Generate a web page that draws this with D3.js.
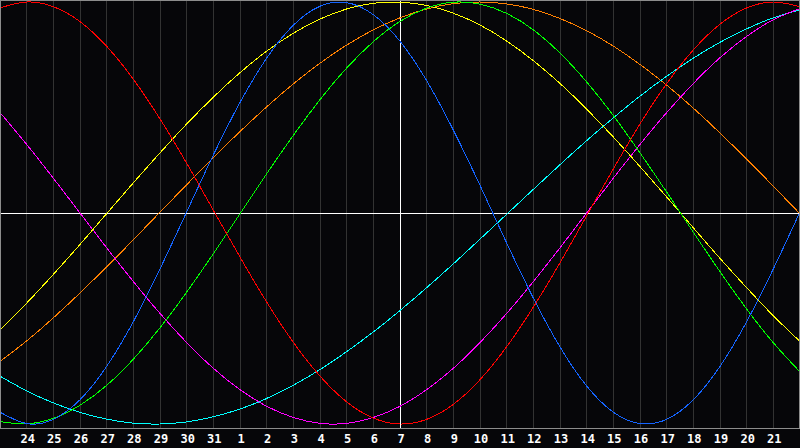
<!DOCTYPE html>
<html>
<head>
<meta charset="utf-8">
<script src="https://cdn.jsdelivr.net/npm/d3@7"></script>
<style>
  html, body { margin: 0; padding: 0; background: #060609; }
  svg { display: block; }
</style>
</head>
<body>
<div id="chart"></div>
<script>
// day labels under the grid lines (index 1..29)
const dayLabels = [24, 25, 26, 27, 28, 29, 30, 31, 1, 2, 3, 4, 5, 6, 7, 8, 9, 10, 11, 12, 13, 14, 15, 16, 17, 18, 19, 20, 21];

// cycle values, one per day (index 0..30)
const physical = [-0.944, -0.998, -0.978, -0.885, -0.727, -0.515, -0.265, 0.005, 0.275, 0.524, 0.734, 0.890, 0.980, 0.997, 0.940, 0.814,
    0.627, 0.393, 0.131, -0.142, -0.403, -0.635, -0.820, -0.944, -0.998, -0.978, -0.885, -0.727, -0.515, -0.265, 0.005];
const emotional = [0.972, 1.000, 0.978, 0.907, 0.790, 0.634, 0.446, 0.236, 0.013, -0.209, -0.422, -0.613, -0.773, -0.895, -0.972, -1.000,
    -0.978, -0.907, -0.790, -0.634, -0.446, -0.236, -0.013, 0.209, 0.422, 0.613, 0.773, 0.895, 0.972, 1.000, 0.978];
const intellectual = [-0.989, -0.999, -0.973, -0.911, -0.817, -0.693, -0.544, -0.375, -0.193, -0.004, 0.186, 0.368, 0.537, 0.687, 0.812, 0.908,
    0.971, 0.999, 0.990, 0.946, 0.868, 0.758, 0.621, 0.462, 0.285, 0.099, -0.091, -0.278, -0.455, -0.615, -0.753];
const intuitive = [0.476, 0.325, 0.165, 0.000, -0.165, -0.325, -0.476, -0.614, -0.736, -0.837, -0.916, -0.969, -0.997, -0.997, -0.969, -0.916,
    -0.837, -0.736, -0.614, -0.476, -0.325, -0.165, 0.000, 0.165, 0.325, 0.476, 0.614, 0.736, 0.837, 0.916, 0.969];
const aesthetic = [-0.554, -0.427, -0.291, -0.149, -0.003, 0.143, 0.285, 0.422, 0.549, 0.665, 0.767, 0.852, 0.919, 0.967, 0.994, 0.999,
    0.984, 0.947, 0.891, 0.815, 0.722, 0.614, 0.492, 0.360, 0.220, 0.076, -0.070, -0.215, -0.354, -0.487, -0.609];
const awareness = [-0.704, -0.606, -0.497, -0.379, -0.255, -0.127, 0.004, 0.134, 0.263, 0.386, 0.503, 0.612, 0.710, 0.796, 0.868, 0.925,
    0.967, 0.992, 1.000, 0.991, 0.965, 0.922, 0.864, 0.791, 0.704, 0.606, 0.497, 0.379, 0.255, 0.127, -0.004];
const spiritual = [-0.773, -0.843, -0.900, -0.945, -0.977, -0.996, -1.000, -0.990, -0.966, -0.929, -0.879, -0.816, -0.742, -0.657, -0.564, -0.462,
    -0.354, -0.241, -0.124, -0.006, 0.112, 0.229, 0.343, 0.451, 0.554, 0.648, 0.734, 0.809, 0.873, 0.925, 0.963];

const series = [
    { name: "awareness", values: awareness, color: "#ff8000" },
    { name: "spiritual", values: spiritual, color: "#00ffff" },
    { name: "intuitive", values: intuitive, color: "#ff00ff" },
    { name: "aesthetic", values: aesthetic, color: "#ffff00" },
    { name: "intellectual", values: intellectual, color: "#00ff00" },
    { name: "emotional", values: emotional, color: "#ff0000" },
    { name: "physical", values: physical, color: "#1464ff" }
];

const width = 800, height = 448, plotH = 428;

const svg = d3.select("#chart")
    .append("svg")
    .attr("width", width)
    .attr("height", height);

svg.append("rect")
    .attr("width", width)
    .attr("height", height)
    .attr("fill", "#060609");

const xScale = d3.scaleLinear().domain([0, 30]).range([0, width]);
const yScale = d3.scaleLinear().domain([-1, 1]).range([424, 2]);

// day grid
svg.append("g")
    .selectAll("line")
    .data(d3.range(1, 30))
    .enter()
    .append("line")
    .attr("x1", d => Math.floor(xScale(d)) + 0.5)
    .attr("x2", d => Math.floor(xScale(d)) + 0.5)
    .attr("y1", 0)
    .attr("y2", plotH)
    .attr("stroke", "#323232")
    .attr("shape-rendering", "crispEdges");

// centre cross
svg.append("line")
    .attr("x1", 0).attr("x2", width)
    .attr("y1", Math.floor(yScale(0)) + 0.5).attr("y2", Math.floor(yScale(0)) + 0.5)
    .attr("stroke", "#ffffff")
    .attr("shape-rendering", "crispEdges");

svg.append("line")
    .attr("x1", Math.floor(xScale(15)) + 0.5).attr("x2", Math.floor(xScale(15)) + 0.5)
    .attr("y1", 0).attr("y2", plotH)
    .attr("stroke", "#ffffff")
    .attr("shape-rendering", "crispEdges");

// curves
const line = d3.line()
    .x((d, i) => xScale(i))
    .y(d => yScale(d))
    .curve(d3.curveNatural);

svg.append("g")
    .selectAll("path")
    .data(series)
    .enter()
    .append("path")
    .attr("d", d => line(d.values))
    .attr("fill", "none")
    .attr("stroke", d => d.color)
    .attr("stroke-width", 1)
    .attr("shape-rendering", "crispEdges");

// frame
svg.append("rect")
    .attr("x", 0.5).attr("y", 0.5)
    .attr("width", width - 1).attr("height", plotH - 0.5)
    .attr("fill", "none")
    .attr("stroke", "#8c8c8c")
    .attr("shape-rendering", "crispEdges");

// day labels
svg.append("g")
    .selectAll("text")
    .data(dayLabels)
    .enter()
    .append("text")
    .attr("x", (d, i) => xScale(i + 1) + 1)
    .attr("y", 443)
    .attr("text-anchor", "middle")
    .attr("fill", "#ffffff")
    .style("font-family", "'DejaVu Sans Mono', monospace")
    .style("font-weight", "bold")
    .style("font-size", "12px")
    .text(d => d);
</script>
</body>
</html>
